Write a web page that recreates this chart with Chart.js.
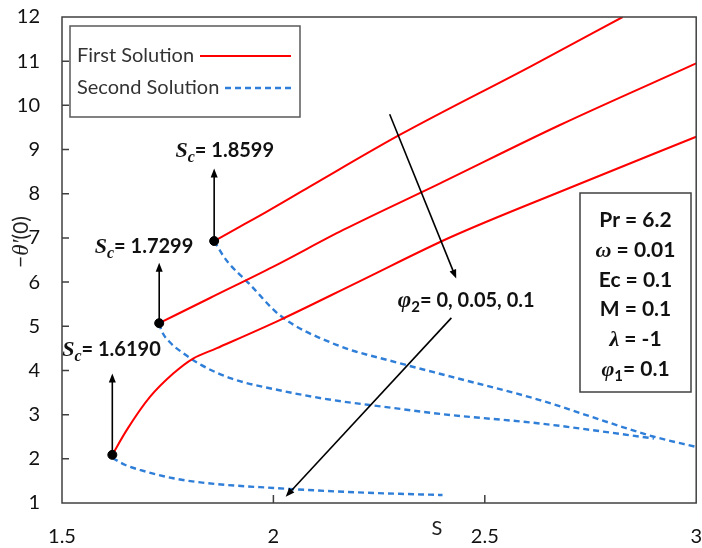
<!DOCTYPE html>
<html>
<head>
<meta charset="utf-8">
<script src="https://cdn.jsdelivr.net/npm/chart.js@4.4.1/dist/chart.umd.min.js"></script>
<style>
  html, body { margin: 0; padding: 0; background: #ffffff; }
  #wrap { width: 702px; height: 548px; }
</style>
</head>
<body>
<div id="wrap"><canvas id="chart" width="702" height="548"></canvas></div>
<script>
// Axis ticks
const xTickValues = [1.5, 2, 2.5, 3];
const yTickValues = [1, 2, 3, 4, 5, 6, 7, 8, 9, 10, 11, 12];

// Critical values of S where the two solution branches meet
const criticalS = [1.8599, 1.7299, 1.6190];
const phi2Values = [0, 0.05, 0.1];

// First (upper) solution branches, -theta'(0) against S
const firstS_phi0   = [1.8599, 1.92, 1.9836, 2.086, 2.2985, 2.61, 2.826];
const firstT_phi0   = [6.93, 7.25, 7.59, 8.16, 9.33, 10.89, 12.0];
const firstS_phi005 = [1.7299, 1.85, 2.0, 2.165, 2.393, 2.6765, 3.0];
const firstT_phi005 = [5.07, 5.64, 6.35, 7.18, 8.23, 9.55, 10.95];
const firstS_phi01  = [1.6190, 1.653, 1.708, 1.763, 1.81, 1.865, 2.015, 2.2, 2.42, 2.7, 3.0];
const firstT_phi01  = [2.09, 2.65, 3.40, 3.93, 4.27, 4.50, 5.14, 6.0, 7.02, 8.13, 9.29];

// Second (lower) solution branches
const secondS_phi0   = [1.8599, 1.881, 1.895, 1.942, 2.015, 2.141, 2.30, 2.42, 2.63, 2.80, 2.90, 3.0];
const secondT_phi0   = [6.93, 6.60, 6.42, 5.97, 5.25, 4.61, 4.16, 3.86, 3.33, 2.80, 2.50, 2.27];
const secondS_phi005 = [1.7299, 1.735, 1.757, 1.787, 1.83, 1.90, 2.02, 2.14, 2.26, 2.40, 2.63, 2.90];
const secondT_phi005 = [5.07, 4.91, 4.62, 4.39, 4.12, 3.82, 3.54, 3.33, 3.18, 3.01, 2.80, 2.46];
const secondS_phi01  = [1.6190, 1.65, 1.684, 1.763, 1.842, 2.0, 2.2, 2.4];
const secondT_phi01  = [2.02, 1.86, 1.75, 1.56, 1.45, 1.34, 1.24, 1.18];

// Fixed parameters listed in the box
const paramNames  = ['Pr', 'ω', 'Ec', 'M', 'λ', 'φ'];
const paramSubs   = ['', '', '', '', '', '1'];
const paramValues = ['6.2', '0.01', '0.1', '0.1', '-1', '0.1'];

const SANS = 'Lato, "Open Sans", sans-serif';
const SERIF = '"Liberation Serif", "DejaVu Serif", serif';
const RED = '#ff0000';
const BLUE = '#2f7ed8';

const pts = (xs, ys) => xs.map((x, i) => ({ x: x, y: ys[i] }));

function firstBranch(xs, ys) {
  return { data: pts(xs, ys), showLine: true, borderColor: RED, borderWidth: 2,
           pointRadius: 0, cubicInterpolationMode: 'monotone', fill: false };
}
function secondBranch(xs, ys) {
  return { data: pts(xs, ys), showLine: true, borderColor: BLUE, borderWidth: 2.4,
           borderDash: [6, 4], pointRadius: 0, cubicInterpolationMode: 'monotone', fill: false };
}

const firstStarts = [firstT_phi0[0], firstT_phi005[0], firstT_phi01[0]];

// Draws a sequence of differently styled text pieces on one line
function drawRuns(ctx, runs, x, y, align) {
  let w = 0;
  runs.forEach(r => { ctx.font = r.f; r.w = ctx.measureText(r.t).width; w += r.w; });
  let cx = align === 'center' ? x - w / 2 : (align === 'right' ? x - w : x);
  ctx.textAlign = 'left';
  ctx.textBaseline = 'alphabetic';
  runs.forEach(r => { ctx.font = r.f; ctx.fillText(r.t, cx, y + (r.dy || 0)); cx += r.w; });
}

function arrow(ctx, x1, y1, x2, y2) {
  const a = Math.atan2(y2 - y1, x2 - x1);
  const len = 9, half = 3.5;
  ctx.beginPath();
  ctx.moveTo(x1, y1);
  ctx.lineTo(x2 - Math.cos(a) * len * 0.8, y2 - Math.sin(a) * len * 0.8);
  ctx.stroke();
  ctx.beginPath();
  ctx.moveTo(x2, y2);
  ctx.lineTo(x2 - Math.cos(a) * len + Math.sin(a) * half, y2 - Math.sin(a) * len - Math.cos(a) * half);
  ctx.lineTo(x2 - Math.cos(a) * len - Math.sin(a) * half, y2 - Math.sin(a) * len + Math.cos(a) * half);
  ctx.closePath();
  ctx.fill();
}

// Arrow tops above the critical points, and the two slanted trend arrows
const criticalArrowTops = [8.57, 6.44, 3.93];
const trendArrows = [
  { from: [2.275, 9.80], to: [2.4324, 6.08] },
  { from: [2.421, 5.19], to: [2.029, 1.14] }
];
const criticalLabelAt = [[1.885, 8.99], [1.694, 6.81], [1.617, 4.48]];
const phiLabelAt = [2.456, 5.59];

const decor = {
  id: 'decor',
  afterDatasetsDraw(chart) {
    const ctx = chart.ctx;
    const xs = chart.scales.x, ys = chart.scales.y;
    const a = chart.chartArea;
    const X = v => xs.getPixelForValue(v), Y = v => ys.getPixelForValue(v);
    ctx.save();

    // frame and inward ticks
    ctx.strokeStyle = '#404040';
    ctx.lineWidth = 1.5;
    ctx.strokeRect(a.left, a.top, a.right - a.left, a.bottom - a.top);
    ctx.beginPath();
    xTickValues.slice(1, -1).forEach(v => { ctx.moveTo(X(v), a.bottom); ctx.lineTo(X(v), a.bottom - 8); });
    yTickValues.slice(1, -1).forEach(v => { ctx.moveTo(a.left, Y(v)); ctx.lineTo(a.left + 7, Y(v)); });
    ctx.stroke();

    // arrows
    ctx.strokeStyle = '#000';
    ctx.fillStyle = '#000';
    ctx.lineWidth = 1.6;
    criticalS.forEach((s, i) => arrow(ctx, X(s), Y(firstStarts[i]) - 4, X(s), Y(criticalArrowTops[i])));
    trendArrows.forEach(t => arrow(ctx, X(t.from[0]), Y(t.from[1]), X(t.to[0]), Y(t.to[1])));

    // critical value labels
    ctx.fillStyle = '#111';
    criticalS.forEach((s, i) => {
      drawRuns(ctx, [
        { t: 'S', f: `italic bold 22px ${SERIF}` },
        { t: 'c', f: `italic bold 16px ${SERIF}`, dy: 5 },
        { t: '= ' + s.toFixed(4), f: `bold 20px ${SANS}` }
      ], X(criticalLabelAt[i][0]), Y(criticalLabelAt[i][1]) + 7, 'center');
    });
    drawRuns(ctx, [
      { t: 'φ', f: `italic bold 23px ${SERIF}` },
      { t: '2', f: `bold 15px ${SANS}`, dy: 5 },
      { t: '= ' + phi2Values.join(', '), f: `bold 20px ${SANS}` }
    ], X(phiLabelAt[0]), Y(phiLabelAt[1]) + 7, 'center');

    // legend
    ctx.fillStyle = '#fff';
    ctx.fillRect(70, 26, 230, 91);
    ctx.strokeStyle = '#595959';
    ctx.lineWidth = 1.5;
    ctx.strokeRect(70, 26, 230, 91);
    ctx.fillStyle = '#333';
    ctx.font = `20px ${SANS}`;
    ctx.textAlign = 'left';
    ctx.textBaseline = 'middle';
    ctx.fillText('First Solution', 77, 56);
    ctx.fillText('Second Solution', 77, 88);
    ctx.strokeStyle = RED;
    ctx.lineWidth = 2;
    ctx.beginPath(); ctx.moveTo(200, 56); ctx.lineTo(291, 56); ctx.stroke();
    ctx.strokeStyle = BLUE;
    ctx.lineWidth = 2.4;
    ctx.setLineDash([6, 4]);
    ctx.beginPath(); ctx.moveTo(225, 88); ctx.lineTo(291, 88); ctx.stroke();
    ctx.setLineDash([]);

    // parameter box
    ctx.fillStyle = '#fff';
    ctx.fillRect(580, 193, 111, 199);
    ctx.strokeStyle = '#404040';
    ctx.lineWidth = 1.5;
    ctx.strokeRect(580, 193, 111, 199);
    ctx.fillStyle = '#111';
    paramNames.forEach((n, i) => {
      const greek = /[ωλφ]/.test(n);
      const runs = [{ t: n, f: greek ? `italic bold 22px ${SERIF}` : `bold 21px ${SANS}` }];
      if (paramSubs[i]) runs.push({ t: paramSubs[i], f: `bold 15px ${SANS}`, dy: 5 });
      runs.push({ t: (paramSubs[i] ? '= ' : ' = ') + paramValues[i], f: `bold 21px ${SANS}` });
      drawRuns(ctx, runs, 635.5, 227 + i * 29.8, 'center');
    });

    // axis titles
    ctx.fillStyle = '#222';
    drawRuns(ctx, [{ t: 'S', f: `20px ${SANS}` }], 437, 535, 'center');
    ctx.translate(21, 242);
    ctx.rotate(-Math.PI / 2);
    drawRuns(ctx, [
      { t: '−', f: `21px ${SANS}` },
      { t: 'θ′', f: `italic 23px ${SERIF}` },
      { t: '(0)', f: `21px ${SANS}` }
    ], 0, 7, 'center');
    ctx.restore();
  }
};

new Chart(document.getElementById('chart'), {
  type: 'scatter',
  data: {
    datasets: [
      { data: criticalS.map((s, i) => ({ x: s, y: firstStarts[i] })), pointRadius: 4.5,
        pointBackgroundColor: '#000', pointBorderColor: '#000', showLine: false },
      firstBranch(firstS_phi0, firstT_phi0),
      firstBranch(firstS_phi005, firstT_phi005),
      firstBranch(firstS_phi01, firstT_phi01),
      secondBranch(secondS_phi0, secondT_phi0),
      secondBranch(secondS_phi005, secondT_phi005),
      secondBranch(secondS_phi01, secondT_phi01)
    ]
  },
  options: {
    responsive: false,
    animation: false,
    devicePixelRatio: 1,
    layout: { padding: { top: 17, right: 5, left: 0, bottom: 0 } },
    plugins: { legend: { display: false }, tooltip: { enabled: false } },
    scales: {
      x: {
        type: 'linear', min: 1.5, max: 3,
        afterFit: s => { s.height = 45; },
        afterBuildTicks: s => { s.ticks = xTickValues.map(v => ({ value: v })); },
        ticks: { color: '#111', font: { family: SANS, size: 20 }, padding: 0, maxRotation: 0,
                 callback: v => String(v) },
        grid: { display: false, drawTicks: true, tickLength: 22 },
        border: { display: false }
      },
      y: {
        type: 'linear', min: 1, max: 12,
        afterFit: s => { s.width = 62; },
        afterBuildTicks: s => { s.ticks = yTickValues.map(v => ({ value: v })); },
        ticks: { color: '#111', font: { family: SANS, size: 20 }, padding: 0,
                 callback: v => String(v) },
        grid: { display: false, drawTicks: true, tickLength: 22 },
        border: { display: false }
      }
    }
  },
  plugins: [decor]
});
</script>
</body>
</html>
